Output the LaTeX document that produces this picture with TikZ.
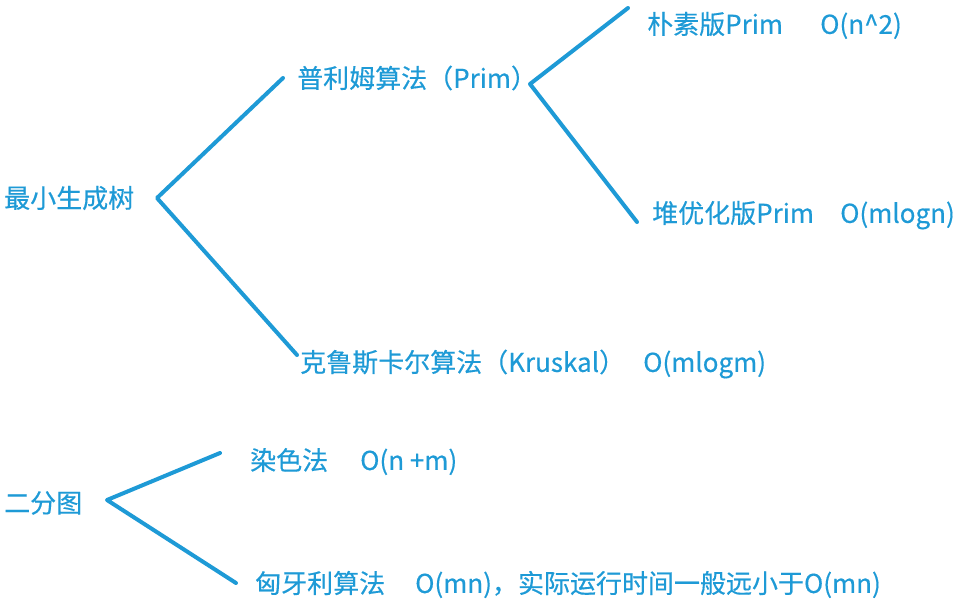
\documentclass[tikz,border=0pt]{standalone}
\usepackage{fontspec}
\setmainfont{Noto Sans CJK SC}[FakeBold=0.4]
\usetikzlibrary{positioning}
\definecolor{penblue}{HTML}{1E9AD6}
\begin{document}
\begin{tikzpicture}[x=1pt,y=-1pt]
  \useasboundingbox (0,0) rectangle (960,608);
  \begin{scope}[every node/.style={text=penblue,inner sep=0pt,font=\fontsize{26}{30}\selectfont}]
  \node[anchor=west] (mst) at (4,198) {最小生成树};
  \node[anchor=west] (prim) at (297,78) {普利姆算法（Prim）};
  \node[anchor=west] (naive) at (647,24) {朴素版Prim};
  \node[anchor=base west] (naivecost) at (naive.base -| 820,0) {O(n\^{}2)};
  \node[anchor=west] (heap) at (652,213) {堆优化版Prim};
  \node[anchor=base west] (heapcost) at (heap.base -| 840,0) {O(mlogn)};
  \node[anchor=west] (kruskal) at (300,362) {克鲁斯卡尔算法（Kruskal）};
  \node[anchor=base west] (kruskalcost) at (kruskal.base -| 643,0) {O(mlogm)};
  \node[anchor=west] (bip) at (4,503) {二分图};
  \node[anchor=west] (dye) at (250,460) {染色法};
  \node[anchor=base west] (dyecost) at (dye.base -| 360,0) {O(n +m)};
  \node[anchor=west] (hung) at (255,583) {匈牙利算法};
  \node[anchor=base west] (hungcost) at (hung.base -| 415,0) {O(mn)，实际运行时间一般远小于O(mn)};
  \end{scope}
  \coordinate (mstv) at (157,198);
  \coordinate (primv) at (530,84);
  \coordinate (bipv) at (107,500);
  \begin{scope}[every path/.style={draw=penblue,line width=4pt,line cap=round,line join=round}]
  \path ([xshift=-14pt]prim.west) -- (mstv) -- ([xshift=-3pt,yshift=7pt]kruskal.west);
  \path ([xshift=-19pt,yshift=16pt]naive.west) -- (primv) -- ([xshift=-15pt,yshift=-9pt]heap.west);
  \path ([xshift=-30pt,yshift=7pt]dye.west) -- (bipv) -- ([xshift=-19pt]hung.west);
  \end{scope}
\end{tikzpicture}
\end{document}
